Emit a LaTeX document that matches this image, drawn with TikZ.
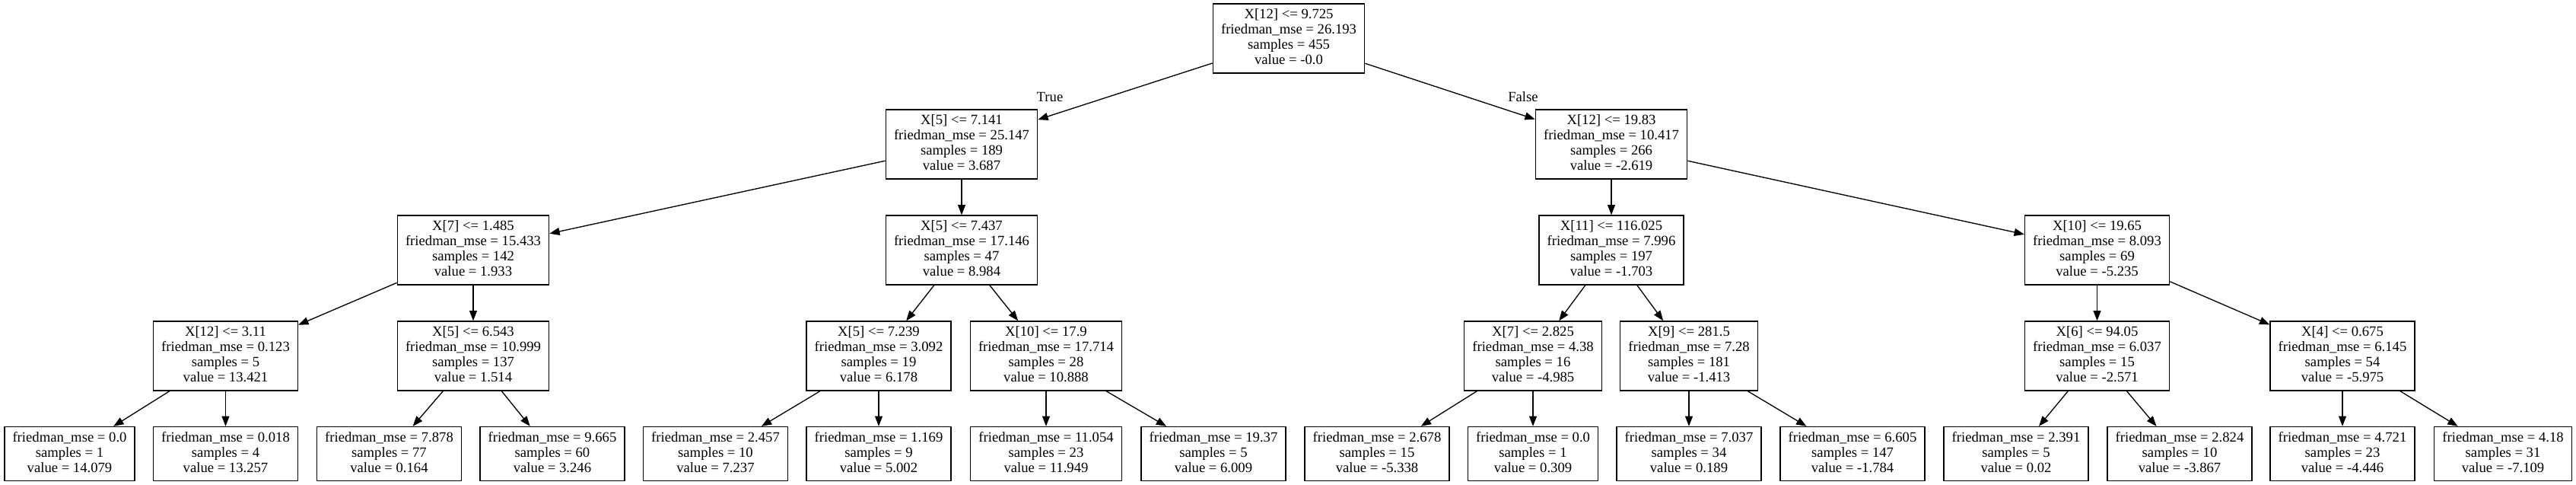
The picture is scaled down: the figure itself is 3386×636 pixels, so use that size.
\documentclass[tikz,border=0pt]{standalone}
\usepackage{fontspec}
\setmainfont{Liberation Serif}
\usetikzlibrary{arrows.meta}
\newcommand\splitn[4]{\strut #1\\\strut friedman\_mse = #2\\\strut samples = #3\\\strut value = #4}
\newcommand\leafn[3]{\strut friedman\_mse = #1\\\strut samples = #2\\\strut value = #3}
\tikzset{
  tbox/.style={draw=black, line width=1pt, rectangle, align=center,
    font=\fontsize{14}{15}\selectfont, inner xsep=8pt, inner ysep=0pt,
    minimum height=68.25pt},
  tleaf/.style={tbox, minimum height=53.25pt},
  tarrow/.style={-{Triangle[length=10pt,width=7.5pt]}, line width=1pt},
  tlabel/.style={font=\fontsize{14}{15}\selectfont, inner sep=0pt}
}
\begin{document}
\begin{tikzpicture}[x=0.75pt,y=-0.75pt]
\fill[white] (0,0) rectangle (3386,636);
\useasboundingbox (0,0) rectangle (3386,636);
% rank 0
\node[tbox] (root) at (1694,50.5) {\splitn{X[12] <= 9.725}{26.193}{455}{-0.0}};
% rank 1
\node[tbox] (A) at (1264,189.5) {\splitn{X[5] <= 7.141}{25.147}{189}{3.687}};
\node[tbox] (B) at (2118,189.5) {\splitn{X[12] <= 19.83}{10.417}{266}{-2.619}};
% rank 2
\node[tbox] (A1) at (622,328.5) {\splitn{X[7] <= 1.485}{15.433}{142}{1.933}};
\node[tbox] (A2) at (1264,328.5) {\splitn{X[5] <= 7.437}{17.146}{47}{8.984}};
\node[tbox] (B1) at (2118,328.5) {\splitn{X[11] <= 116.025}{7.996}{197}{-1.703}};
\node[tbox] (B2) at (2756.5,328.5) {\splitn{X[10] <= 19.65}{8.093}{69}{-5.235}};
% rank 3
\node[tbox] (A11) at (296.5,467.5) {\splitn{X[12] <= 3.11}{0.123}{5}{13.421}};
\node[tbox] (A12) at (622,467.5) {\splitn{X[5] <= 6.543}{10.999}{137}{1.514}};
\node[tbox] (A21) at (1155,467.5) {\splitn{X[5] <= 7.239}{3.092}{19}{6.178}};
\node[tbox] (A22) at (1375,467.5) {\splitn{X[10] <= 17.9}{17.714}{28}{10.888}};
\node[tbox] (B11) at (2015,467.5) {\splitn{X[7] <= 2.825}{4.38}{16}{-4.985}};
\node[tbox] (B12) at (2220,467.5) {\splitn{X[9] <= 281.5}{7.28}{181}{-1.413}};
\node[tbox] (B21) at (2756.5,467.5) {\splitn{X[6] <= 94.05}{6.037}{15}{-2.571}};
\node[tbox] (B22) at (3079,467.5) {\splitn{X[4] <= 0.675}{6.145}{54}{-5.975}};
% leaves
\node[tleaf] (L1) at (91.5,596) {\leafn{0.0}{1}{14.079}};
\node[tleaf] (L2) at (296.5,596) {\leafn{0.018}{4}{13.257}};
\node[tleaf] (L3) at (511.5,596) {\leafn{7.878}{77}{0.164}};
\node[tleaf] (L4) at (726,596) {\leafn{9.665}{60}{3.246}};
\node[tleaf] (L5) at (940.5,596) {\leafn{2.457}{10}{7.237}};
\node[tleaf] (L6) at (1155,596) {\leafn{1.169}{9}{5.002}};
\node[tleaf] (L7) at (1375,596) {\leafn{11.054}{23}{11.949}};
\node[tleaf] (L8) at (1595,596) {\leafn{19.37}{5}{6.009}};
\node[tleaf] (L9) at (1810,596) {\leafn{2.678}{15}{-5.338}};
\node[tleaf] (L10) at (2015,596) {\leafn{0.0}{1}{0.309}};
\node[tleaf] (L11) at (2220,596) {\leafn{7.037}{34}{0.189}};
\node[tleaf] (L12) at (2435,596) {\leafn{6.605}{147}{-1.784}};
\node[tleaf] (L13) at (2650,596) {\leafn{2.391}{5}{0.02}};
\node[tleaf] (L14) at (2865,596) {\leafn{2.824}{10}{-3.867}};
\node[tleaf] (L15) at (3079,596) {\leafn{4.721}{23}{-4.446}};
\node[tleaf] (L16) at (3290,596) {\leafn{4.18}{31}{-7.109}};
% edge labels
\node[tlabel] (lblT) at (1380,127) {True};
\node[tlabel] (lblF) at (2002,127) {False};
% edges
\draw[tarrow] (root) -- (A);
\draw[tarrow] (root) -- (B);
\draw[tarrow] (A) -- (A1);
\draw[tarrow] (A) -- (A2);
\draw[tarrow] (B) -- (B1);
\draw[tarrow] (B) -- (B2);
\draw[tarrow] (A1) -- (A11);
\draw[tarrow] (A1) -- (A12);
\draw[tarrow] (A2) -- (A21);
\draw[tarrow] (A2) -- (A22);
\draw[tarrow] (B1) -- (B11);
\draw[tarrow] (B1) -- (B12);
\draw[tarrow] (B2) -- (B21);
\draw[tarrow] (B2) -- (B22);
\draw[tarrow] (A11) -- (L1);
\draw[tarrow] (A11) -- (L2);
\draw[tarrow] (A12) -- (L3);
\draw[tarrow] (A12) -- (L4);
\draw[tarrow] (A21) -- (L5);
\draw[tarrow] (A21) -- (L6);
\draw[tarrow] (A22) -- (L7);
\draw[tarrow] (A22) -- (L8);
\draw[tarrow] (B11) -- (L9);
\draw[tarrow] (B11) -- (L10);
\draw[tarrow] (B12) -- (L11);
\draw[tarrow] (B12) -- (L12);
\draw[tarrow] (B21) -- (L13);
\draw[tarrow] (B21) -- (L14);
\draw[tarrow] (B22) -- (L15);
\draw[tarrow] (B22) -- (L16);
\end{tikzpicture}
\end{document}
